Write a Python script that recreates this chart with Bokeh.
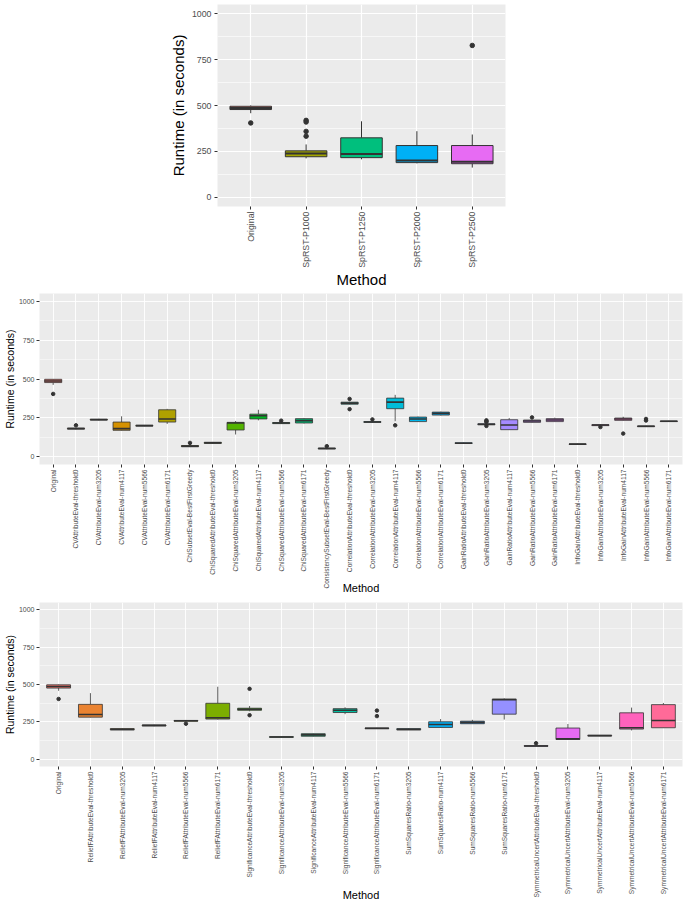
import math
import numpy as np
from bokeh.plotting import figure
from bokeh.layouts import column, row, Spacer
from bokeh.models import Range1d, FixedTicker, ColumnDataSource
from bokeh.embed import file_html
from bokeh.resources import INLINE

# ---------------- data ----------------
methods1 = ["Original", "SpRST-P1000", "SpRST-P1250", "SpRST-P2000", "SpRST-P2500"]
lo1 = [458, 212, 207, 185, 162]
q1_1 = [478, 221, 216, 189, 183]
med1 = [487, 239, 236, 200, 194]
q3_1 = [496, 253, 324, 282, 282]
hi1 = [500, 288, 414, 360, 342]
out1_m = ["Original", "SpRST-P1000", "SpRST-P1000", "SpRST-P1000", "SpRST-P1000", "SpRST-P2500"]
out1_v = [405, 419, 410, 359, 333, 827]

methods2 = [
    "Original",
    "CVAttributeEval-threshold0", "CVAttributeEval-num3205", "CVAttributeEval-num4117",
    "CVAttributeEval-num5566", "CVAttributeEval-num6171",
    "ChiSubsetEval-BestFirstGreedy",
    "ChiSquaredAttributeEval-threshold0", "ChiSquaredAttributeEval-num3205",
    "ChiSquaredAttributeEval-num4117", "ChiSquaredAttributeEval-num5566",
    "ChiSquaredAttributeEval-num6171",
    "ConsistencySubsetEval-BestFirstGreedy",
    "CorrelationAttributeEval-threshold0", "CorrelationAttributeEval-num3205",
    "CorrelationAttributeEval-num4117", "CorrelationAttributeEval-num5566",
    "CorrelationAttributeEval-num6171",
    "GainRatioAttributeEval-threshold0", "GainRatioAttributeEval-num3205",
    "GainRatioAttributeEval-num4117", "GainRatioAttributeEval-num5566",
    "GainRatioAttributeEval-num6171",
    "InfoGainAttributeEval-threshold0", "InfoGainAttributeEval-num3205",
    "InfoGainAttributeEval-num4117", "InfoGainAttributeEval-num5566",
    "InfoGainAttributeEval-num6171",
]
lo2 = [462, 176, 234, 168, 196, 211, 62, 84, 143, 234, 211, 214, 48, 336, 219, 228, 224, 265,
       83, 203, 172, 219, 224, 78, 198, 232, 191, 225]
q1_2 = [477, 178, 236, 170, 197, 223, 64, 86, 172, 243, 213, 217, 50, 338, 221, 309, 226, 268,
        85, 205, 174, 221, 226, 79, 200, 234, 193, 226]
med2 = [487, 181, 238, 181, 200, 243, 68, 89, 217, 264, 217, 232, 53, 345, 223, 351, 243, 279,
        87, 209, 204, 230, 236, 81, 204, 243, 196, 228]
q3_2 = [498, 184, 242, 223, 202, 302, 72, 93, 221, 274, 220, 245, 56, 351, 226, 377, 255, 287,
        90, 212, 238, 236, 245, 82, 206, 249, 198, 230]
hi2 = [500, 186, 244, 260, 204, 308, 74, 95, 230, 302, 222, 248, 58, 354, 228, 398, 258, 290,
       92, 214, 249, 238, 251, 84, 208, 257, 200, 231]
out2_m = ["Original", "CVAttributeEval-threshold0", "ChiSubsetEval-BestFirstGreedy",
          "ChiSquaredAttributeEval-num5566", "ConsistencySubsetEval-BestFirstGreedy",
          "CorrelationAttributeEval-threshold0", "CorrelationAttributeEval-threshold0",
          "CorrelationAttributeEval-num3205", "CorrelationAttributeEval-num4117",
          "GainRatioAttributeEval-num3205", "GainRatioAttributeEval-num3205",
          "GainRatioAttributeEval-num3205", "GainRatioAttributeEval-num3205",
          "GainRatioAttributeEval-num5566", "InfoGainAttributeEval-num3205",
          "InfoGainAttributeEval-num4117", "InfoGainAttributeEval-num5566",
          "InfoGainAttributeEval-num5566"]
out2_v = [404, 202, 89, 232, 68, 372, 306, 240, 202, 234, 228, 224, 198, 253, 191, 149, 243, 233]

methods3 = [
    "Original",
    "ReliefFAttributeEval-threshold0", "ReliefFAttributeEval-num3205",
    "ReliefFAttributeEval-num4117", "ReliefFAttributeEval-num5566",
    "ReliefFAttributeEval-num6171",
    "SignificanceAttributeEval-threshold0", "SignificanceAttributeEval-num3205",
    "SignificanceAttributeEval-num4117", "SignificanceAttributeEval-num5566",
    "SignificanceAttributeEval-num6171",
    "SumSquaresRatio-num3205", "SumSquaresRatio-num4117", "SumSquaresRatio-num5566",
    "SumSquaresRatio-num6171",
    "SymmetricalUncertAttributeEval-threshold0", "SymmetricalUncertAttributeEval-num3205",
    "SymmetricalUncertAttributeEval-num4117", "SymmetricalUncertAttributeEval-num5566",
    "SymmetricalUncertAttributeEval-num6171",
]
lo3 = [458, 279, 195, 220, 252, 265, 320, 145, 151, 301, 203, 195, 210, 235, 265, 85, 130, 154, 192, 208]
q1_3 = [476, 281, 196, 222, 254, 268, 327, 146, 153, 312, 205, 196, 212, 237, 301, 86, 131, 155, 201, 210]
med3 = [487, 299, 199, 226, 257, 277, 334, 148, 162, 327, 206, 199, 232, 246, 398, 88, 135, 157, 210, 259]
q3_3 = [498, 367, 204, 228, 259, 374, 341, 150, 170, 338, 208, 204, 250, 254, 403, 90, 208, 159, 310, 365]
hi3 = [500, 442, 206, 230, 262, 485, 356, 151, 172, 347, 209, 206, 268, 263, 407, 92, 235, 160, 345, 376]
out3_m = ["Original", "ReliefFAttributeEval-num5566", "SignificanceAttributeEval-threshold0",
          "SignificanceAttributeEval-threshold0", "SignificanceAttributeEval-num6171",
          "SignificanceAttributeEval-num6171", "SymmetricalUncertAttributeEval-threshold0"]
out3_v = [403, 237, 471, 294, 325, 288, 106]

y_ticks = [0, 250, 500, 750, 1000]
y_minor = [125, 375, 625, 875]

FONT = "Liberation Sans"


def hcl_hex(h, c=100.0, l=65.0):
    hr = math.radians(h)
    U, V = c * math.cos(hr), c * math.sin(hr)
    Xn, Yn, Zn = 95.047, 100.0, 108.883
    Y = Yn * ((l + 16) / 116) ** 3
    t = Xn + Yn + Zn
    x, y = Xn / t, Yn / t
    uN = 2 * x / (6 * y - x + 1.5)
    vN = 4.5 * y / (6 * y - x + 1.5)
    u = U / (13 * l) + uN
    v = V / (13 * l) + vN
    X = 9.0 * Y * u / (4 * v)
    Z = -X / 3 - 5 * Y + 3 * Y / v
    X, Y, Z = X / 100, Y / 100, Z / 100
    r = 3.240479 * X - 1.537150 * Y - 0.498535 * Z
    g = -0.969256 * X + 1.875992 * Y + 0.041556 * Z
    b = 0.055648 * X - 0.204043 * Y + 1.057311 * Z

    def gam(q):
        q = 12.92 * q if q <= 0.0031308 else 1.055 * q ** (1 / 2.4) - 0.055
        return int(round(min(max(q, 0), 1) * 255))
    return "#%02X%02X%02X" % (gam(r), gam(g), gam(b))


def hue_pal(n):
    return [hcl_hex(h) for h in np.linspace(15, 375, n + 1)[:n]]


def panel(methods, lo, q1, med, q3, hi, out_m, out_v, width, height, mb, fs, box_lw,
          pt_size, grid_w, xl_standoff, yl_standoff, ylab_standoff):
    n = len(methods)
    pos = np.arange(1, n + 1, dtype=float)
    idx = {m: i + 1 for i, m in enumerate(methods)}
    cols = hue_pal(n)
    bw = 0.75
    p = figure(width=width, height=height, output_backend="svg", toolbar_location=None,
               x_range=Range1d(0.4, n + 0.6), y_range=Range1d(-50, 1050),
               min_border_left=mb[0], min_border_right=mb[1], min_border_top=mb[2],
               min_border_bottom=mb[3])
    p.background_fill_color = "#EBEBEB"
    p.border_fill_color = "white"
    p.outline_line_color = None
    src = ColumnDataSource(dict(x=pos, lo=lo, q1=q1, med=med, q3=q3, hi=hi, c=cols,
                                xl=pos - bw / 2, xr=pos + bw / 2))
    p.segment(x0="x", x1="x", y0="lo", y1="q1", source=src, line_color="#333333", line_width=box_lw)
    p.segment(x0="x", x1="x", y0="q3", y1="hi", source=src, line_color="#333333", line_width=box_lw)
    p.vbar(x="x", width=bw, bottom="q1", top="q3", source=src, fill_color="c",
           line_color="#333333", line_width=box_lw)
    p.segment(x0="xl", x1="xr", y0="med", y1="med", source=src, line_color="#333333",
              line_width=box_lw * 2)
    p.scatter(x=[idx[m] for m in out_m], y=out_v, size=pt_size, color="#333333")

    p.xaxis.ticker = FixedTicker(ticks=list(pos))
    p.xaxis.major_label_overrides = {float(i + 1): m for i, m in enumerate(methods)}
    p.xaxis.major_label_orientation = math.pi / 2
    p.yaxis.ticker = FixedTicker(ticks=y_ticks, minor_ticks=y_minor)
    p.xgrid.ticker = FixedTicker(ticks=list(pos))
    for ax in (p.xaxis[0], p.yaxis[0]):
        ax.axis_line_color = None
        ax.major_tick_line_color = "#333333"
        ax.major_tick_out = 3
        ax.major_tick_in = 0
        ax.minor_tick_line_color = None
        ax.major_label_text_color = "#4D4D4D"
        ax.major_label_text_font = FONT
        ax.major_label_standoff = 2
        ax.axis_label_text_font = FONT
        ax.axis_label_text_font_style = "normal"
        ax.axis_label_text_color = "black"
    p.yaxis.major_label_standoff = ylab_standoff
    p.xaxis.major_label_text_font_size = f"{fs[0]}px"
    p.yaxis.major_label_text_font_size = f"{fs[3]}px"
    p.xaxis.axis_label_standoff = xl_standoff
    p.yaxis.axis_label_standoff = yl_standoff
    p.xaxis.axis_label = "Method"
    p.yaxis.axis_label = "Runtime (in seconds)"
    p.xaxis.axis_label_text_font_size = f"{fs[1]}px"
    p.yaxis.axis_label_text_font_size = f"{fs[2]}px"
    p.xgrid.grid_line_color = "white"
    p.xgrid.grid_line_width = grid_w
    p.ygrid.grid_line_color = "white"
    p.ygrid.grid_line_width = grid_w
    p.ygrid.minor_grid_line_color = "white"
    p.ygrid.minor_grid_line_width = grid_w / 2
    return p


p1 = panel(methods1, lo1, q1_1, med1, q3_1, hi1, out1_m, out1_v, 347, 292,
           (50, 8, 4, 86), (8.8, 15, 15, 8.8), 1.0, 4.5, 1.2, 0, 2, 2)
p2 = panel(methods2, lo2, q1_2, med2, q3_2, hi2, out2_m, out2_v, 684, 305,
           (28, 2, 1, 133), (6.6, 11, 10.5, 7), 0.8, 3.5, 0.9, -10, 0, 1)
p3 = panel(methods3, lo3, q1_3, med3, q3_3, hi3, out3_m, out3_v, 684, 306,
           (28, 2, 5, 135), (6.6, 11, 10.5, 7), 0.8, 3.5, 0.9, -12, 0, 1)

layout = column(row(Spacer(width=166, height=292), p1), p2, p3)
open("out.html", "w").write(file_html(layout, INLINE))
